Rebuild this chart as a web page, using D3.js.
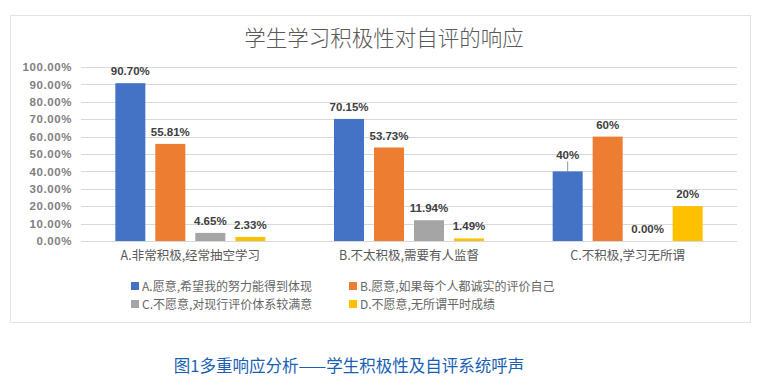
<!DOCTYPE html>
<html><head><meta charset="utf-8">
<script src="https://cdn.jsdelivr.net/npm/d3@7/dist/d3.min.js"></script>
<style>body{margin:0;background:#fff;}svg{display:block;}</style>
</head><body>
<script>
const categories = ["A.非常积极,经常抽空学习", "B.不太积极,需要有人监督", "C.不积极,学习无所谓"];
const seriesNames = ["A.愿意,希望我的努力能得到体现", "B.愿意,如果每个人都诚实的评价自己", "C.不愿意,对现行评价体系较满意", "D.不愿意,无所谓平时成绩"];
const seriesA = [90.70, 70.15, 40];
const seriesB = [55.81, 53.73, 60];
const seriesC = [4.65, 11.94, 0.00];
const seriesD = [2.33, 1.49, 20];
const labelsA = ["90.70%", "70.15%", "40%"];
const labelsB = ["55.81%", "53.73%", "60%"];
const labelsC = ["4.65%", "11.94%", "0.00%"];
const labelsD = ["2.33%", "1.49%", "20%"];
const yTicks = [0, 10, 20, 30, 40, 50, 60, 70, 80, 90, 100];
const colors = ["#4472c4", "#ed7d31", "#a5a5a5", "#ffc000"];
const title = "学生学习积极性对自评的响应";
const caption = "图1多重响应分析——学生积极性及自评系统呼声";

const allValues = [seriesA, seriesB, seriesC, seriesD];
const allLabels = [labelsA, labelsB, labelsC, labelsD];

const W = 773, H = 385;
const svg = d3.select("body").append("svg").attr("width", W).attr("height", H);
const font = "'Noto Sans CJK SC','Microsoft YaHei',sans-serif";

// frame
svg.append("rect").attr("x", 10.5).attr("y", 15.5).attr("width", 740).attr("height", 307)
  .attr("fill", "#fff").attr("stroke", "#e3e3e3").attr("stroke-width", 1);

const x0 = d3.scaleBand().domain(categories).range([81, 737]).paddingInner(0.314).paddingOuter(0.157);
const x1 = d3.scaleBand().domain(d3.range(4)).range([0, x0.bandwidth()]).paddingInner(0.25).paddingOuter(0);
const y = d3.scaleLinear().domain([0, 100]).range([241, 67]);

// gridlines
svg.append("g").selectAll("line").data(yTicks).join("line")
  .attr("x1", 81).attr("x2", 737)
  .attr("y1", d => Math.round(y(d)) + 0.5).attr("y2", d => Math.round(y(d)) + 0.5)
  .attr("stroke", "#d9d9d9").attr("stroke-width", 1);

// y axis labels via d3 axis
const yAxis = svg.append("g").attr("transform", "translate(81,0)")
  .call(d3.axisLeft(y).tickValues(yTicks).tickSize(0).tickPadding(9).tickFormat(d => d.toFixed(2) + "%"));
yAxis.select(".domain").remove();
yAxis.selectAll("text").attr("font-family", "'Liberation Sans',Arial,sans-serif").attr("font-size", 11.5)
  .attr("font-weight", "bold").attr("fill", "#808080").attr("letter-spacing", "0.6px");

// x axis labels
const xAxis = svg.append("g").attr("transform", "translate(0,241)")
  .call(d3.axisBottom(x0).tickSize(0).tickPadding(10));
xAxis.select(".domain").remove();
xAxis.selectAll("text").attr("font-family", font).attr("font-size", 12.5).attr("fill", "#595959");

// bars
const groups = svg.append("g").selectAll("g").data(categories).join("g")
  .attr("transform", d => `translate(${x0(d)},0)`);
groups.each(function(cat, ci) {
  const g = d3.select(this);
  for (let s = 0; s < 4; s++) {
    const v = allValues[s][ci];
    g.append("rect").attr("x", x1(s)).attr("y", y(v)).attr("width", x1.bandwidth())
      .attr("height", y(0) - y(v)).attr("fill", colors[s]);
    const isLifted = (s === 0 && ci === 2);
    const ly = y(v) - (isLifted ? 12 : 8);
    if (isLifted) {
      g.append("line").attr("x1", x1(s) + x1.bandwidth() / 2).attr("x2", x1(s) + x1.bandwidth() / 2)
        .attr("y1", ly + 2).attr("y2", y(v)).attr("stroke", "#7f7f7f").attr("stroke-width", 0.8);
    }
    g.append("text").attr("x", x1(s) + x1.bandwidth() / 2).attr("y", ly)
      .attr("text-anchor", "middle").attr("font-family", "'Liberation Sans',Arial,sans-serif")
      .attr("font-size", 11.5).attr("font-weight", "bold").attr("fill", "#404040")
      .text(allLabels[s][ci]);
  }
});

// title
svg.append("text").attr("x", 384).attr("y", 46).attr("text-anchor", "middle")
  .attr("font-family", font).attr("font-size", 21.5).attr("font-weight", 300).attr("fill", "#595959").text(title);

// legend
const legPos = [[131, 287], [349, 287], [131, 305], [349, 305]];
const leg = svg.append("g").selectAll("g").data(seriesNames).join("g")
  .attr("transform", (d, i) => `translate(${legPos[i][0]},${legPos[i][1]})`);
leg.append("rect").attr("x", 0).attr("y", -5).attr("width", 8).attr("height", 8).attr("fill", (d, i) => colors[i]);
leg.append("text").attr("x", 11).attr("y", 0).attr("dy", "0.35em")
  .attr("font-family", font).attr("font-size", 12).attr("fill", "#666666").text(d => d);

// caption
svg.append("text").attr("x", 349).attr("y", 372).attr("text-anchor", "middle")
  .attr("font-family", font).attr("font-size", 16.5).attr("fill", "#1a5fb4").text(caption);
</script>
</body></html>
